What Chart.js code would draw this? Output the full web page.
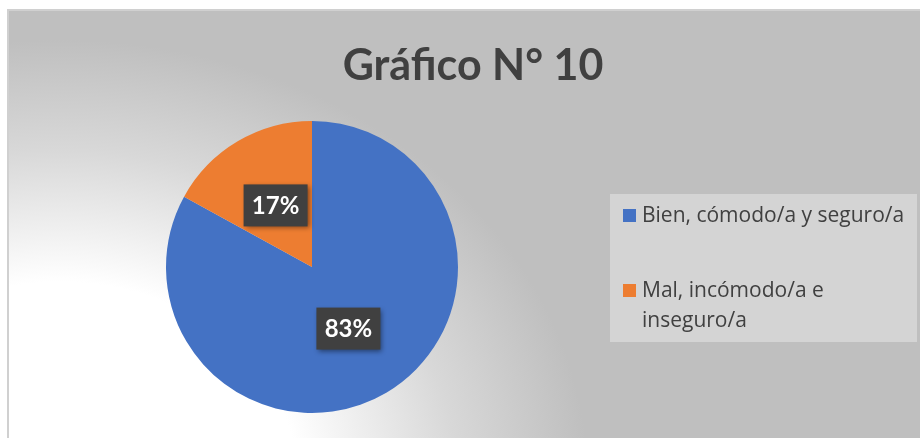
<!DOCTYPE html>
<html>
<head>
<meta charset="utf-8">
<script src="https://cdn.jsdelivr.net/npm/chart.js@4"></script>
<style>
  body { margin: 0; background: #fff; }
  #wrap { position: absolute; left: 0; top: 0; width: 920px; height: 438px; }
</style>
</head>
<body>
<div id="wrap"><canvas id="chartPie"></canvas></div>
<script>
const categories = ['Bien, cómodo/a y seguro/a', 'Mal, incómodo/a e inseguro/a']
const values = [83, 17]
const colors = ['#4472C4', '#ED7D31']
const titleText = 'Gráfico N° 10'

// background, frame and title
const backgroundPlugin = {
    id: 'bg',
    beforeDraw(chart) {
        const ctx = chart.ctx
        ctx.save()
        ctx.fillStyle = '#fff'
        ctx.fillRect(0, 0, 920, 438)
        ctx.beginPath()
        ctx.rect(8, 10, 912, 428)
        ctx.clip()
        ctx.fillStyle = '#bfbfbf'
        ctx.fillRect(8, 10, 912, 428)
        ctx.translate(60, 480)
        ctx.scale(1.2, 1)
        let g = ctx.createRadialGradient(0, 0, 0, 0, 0, 440)
        g.addColorStop(0, '#ffffff')
        g.addColorStop(0.45, '#ffffff')
        g.addColorStop(0.75, '#d8d8d8')
        g.addColorStop(1, '#bfbfbf')
        ctx.fillStyle = g
        ctx.fillRect(-100, -520, 800, 620)
        ctx.restore()
        ctx.save()
        ctx.strokeStyle = '#d0d0d0'
        ctx.lineWidth = 2
        ctx.beginPath()
        ctx.moveTo(8, 438)
        ctx.lineTo(8, 10)
        ctx.lineTo(920, 10)
        ctx.stroke()
        ctx.fillStyle = '#404040'
        ctx.font = 'bold 43px Lato'
        ctx.textAlign = 'center'
        ctx.textBaseline = 'middle'
        ctx.fillText(titleText, 473, 66)
        ctx.restore()
    }
}

// value labels and legend
const labelPlugin = {
    id: 'labels',
    afterDatasetsDraw(chart) {
        const ctx = chart.ctx
        const meta = chart.getDatasetMeta(0)
        const total = values.reduce((a, b) => a + b, 0)
        ctx.save()
        meta.data.forEach((arc, i) => {
            const p = arc.getProps(['x', 'y', 'startAngle', 'endAngle', 'outerRadius'], true)
            const mid = (p.startAngle + p.endAngle) / 2
            const r = p.outerRadius * 0.49
            const x = p.x + Math.cos(mid) * r
            const y = p.y + Math.sin(mid) * r
            const txt = Math.round(values[i] / total * 100) + '%'
            ctx.shadowColor = 'rgba(0,0,0,0.45)'
            ctx.shadowBlur = 5
            ctx.shadowOffsetX = 2
            ctx.shadowOffsetY = 2
            ctx.fillStyle = '#404040'
            ctx.fillRect(x - 32, y - 21, 64, 42)
            ctx.shadowColor = 'transparent'
            ctx.fillStyle = '#fff'
            ctx.font = 'bold 24px Lato'
            ctx.textAlign = 'center'
            ctx.textBaseline = 'middle'
            ctx.fillText(txt, x, y + 1)
        })
        // legend box
        ctx.fillStyle = '#d4d4d4'
        ctx.fillRect(610, 194, 307, 148)
        ctx.font = '21px "Open Sans"'
        ctx.textAlign = 'left'
        ctx.textBaseline = 'middle'
        const lines = [[categories[0]], ['Mal, incómodo/a e', 'inseguro/a']]
        const ys = [216, 291]
        lines.forEach((ls, i) => {
            ctx.fillStyle = colors[i]
            ctx.fillRect(623, ys[i] - 7, 13, 13)
            ctx.fillStyle = '#404040'
            ls.forEach((l, j) => ctx.fillText(l, 642, ys[i] + j * 30))
        })
        ctx.restore()
    }
}

new Chart(document.getElementById('chartPie'), {
    type: 'pie',
    data: {
        labels: categories,
        datasets: [{
            data: values,
            backgroundColor: colors,
            borderWidth: 0
        }]
    },
    options: {
        responsive: true,
        maintainAspectRatio: false,
        animation: false,
        layout: {
            padding: { left: 166, right: 462, top: 121, bottom: 25 }
        },
        plugins: {
            legend: { display: false },
            tooltip: { enabled: false }
        }
    },
    plugins: [backgroundPlugin, labelPlugin]
});
</script>
</body>
</html>
